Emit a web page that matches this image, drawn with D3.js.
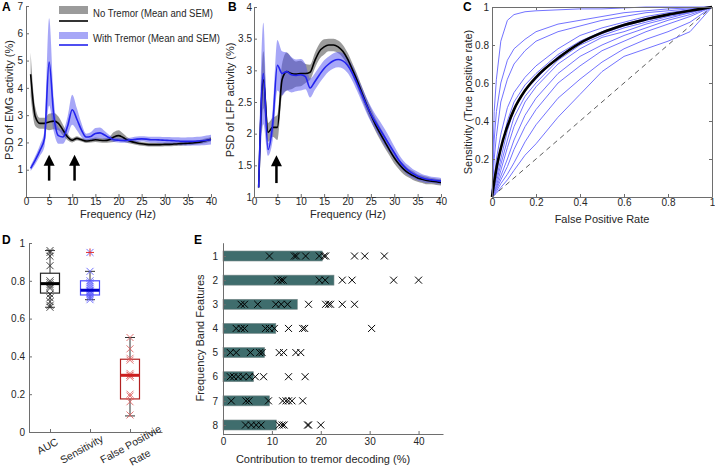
<!DOCTYPE html>
<html>
<head>
<meta charset="utf-8">
<script src="https://cdn.jsdelivr.net/npm/d3@7"></script>
<style>
  body { margin: 0; background: #fff; }
  svg { font-family: "Liberation Sans", Arial, sans-serif; }
  .axis path, .axis line { stroke: #6e6e6e; }
  .axis text { fill: #262626; font-size: 10px; }
</style>
</head>
<body>
<div id="vis-container"></div>
<script>
// ---- Panel A / B : PSD spectra (1..40 Hz) ----
const freqs = d3.range(1, 41);

const emgNoMean = [4.5, 2.95, 2.7, 2.7, 2.75, 2.78, 2.7, 2.45, 2.2, 2.08, 2.15, 2.1, 2.05, 2.07, 2.1, 2.08, 2.07, 2.1, 2.2, 2.25,
  2.18, 2.08, 2.02, 1.98, 1.95, 1.93, 1.92, 1.92, 1.92, 1.93, 1.93, 1.94, 1.95, 1.96, 1.97, 1.98, 2.0, 2.03, 2.07, 2.12];
const emgNoSem = [0.8, 0.35, 0.2, 0.2, 0.3, 0.3, 0.25, 0.2, 0.12, 0.08, 0.08, 0.07, 0.07, 0.07, 0.08, 0.08, 0.08, 0.1, 0.18, 0.2,
  0.15, 0.1, 0.08, 0.07, 0.07, 0.07, 0.07, 0.07, 0.07, 0.07, 0.07, 0.07, 0.07, 0.07, 0.07, 0.07, 0.07, 0.08, 0.08, 0.08];
const emgTrMean = [1.05, 1.35, 1.7, 2.15, 4.95, 3.0, 2.25, 2.2, 2.6, 3.2, 2.85, 2.45, 2.2, 2.22, 2.33, 2.35, 2.27, 2.17, 2.1, 2.08,
  2.07, 2.08, 2.1, 2.12, 2.13, 2.12, 2.1, 2.1, 2.09, 2.08, 2.07, 2.06, 2.05, 2.04, 2.04, 2.04, 2.05, 2.06, 2.08, 2.1];
const emgTrSem = [0.1, 0.15, 0.2, 0.3, 1.6, 0.6, 0.3, 0.25, 0.35, 0.55, 0.4, 0.25, 0.12, 0.15, 0.2, 0.2, 0.15, 0.1, 0.08, 0.08,
  0.08, 0.08, 0.09, 0.1, 0.1, 0.1, 0.11, 0.11, 0.12, 0.12, 0.13, 0.13, 0.14, 0.14, 0.15, 0.15, 0.16, 0.16, 0.17, 0.18];

const lfpNoMean = [1.15, 2.85, 2.02, 2.1, 2.1, 2.85, 2.98, 2.95, 2.94, 2.95, 2.95, 2.97, 3.15, 3.3, 3.37, 3.4, 3.4, 3.37, 3.3, 3.18,
  3.02, 2.85, 2.66, 2.47, 2.3, 2.14, 2.0, 1.87, 1.74, 1.62, 1.52, 1.44, 1.38, 1.34, 1.3, 1.28, 1.26, 1.25, 1.24, 1.23];
const lfpNoSem = [0.05, 0.45, 0.15, 0.15, 0.2, 0.25, 0.3, 0.25, 0.2, 0.2, 0.15, 0.12, 0.12, 0.12, 0.12, 0.1, 0.1, 0.1, 0.1, 0.1,
  0.1, 0.1, 0.1, 0.1, 0.1, 0.1, 0.1, 0.1, 0.09, 0.09, 0.08, 0.08, 0.07, 0.07, 0.06, 0.06, 0.06, 0.05, 0.05, 0.05];
const lfpTrMean = [1.15, 2.95, 1.75, 2.15, 3.08, 2.95, 2.98, 2.93, 2.92, 2.93, 2.9, 2.72, 2.82, 2.93, 3.03, 3.1, 3.15, 3.17, 3.15, 3.08,
  2.96, 2.8, 2.63, 2.46, 2.31, 2.18, 2.06, 1.94, 1.82, 1.7, 1.58, 1.49, 1.42, 1.37, 1.33, 1.3, 1.28, 1.27, 1.26, 1.25];
const lfpTrSem = [0.05, 0.8, 0.1, 0.25, 0.4, 0.35, 0.3, 0.28, 0.25, 0.25, 0.2, 0.15, 0.13, 0.13, 0.13, 0.12, 0.12, 0.12, 0.12, 0.12,
  0.12, 0.12, 0.12, 0.12, 0.12, 0.12, 0.13, 0.13, 0.12, 0.1, 0.09, 0.08, 0.08, 0.07, 0.07, 0.06, 0.06, 0.05, 0.05, 0.05];

const emgArrows = [5, 10.5];
const lfpArrows = [4.8];

// ---- Panel C : ROC curves ----
const rocFpr = [0, 0.01, 0.02, 0.04, 0.07, 0.1, 0.15, 0.2, 0.3, 0.4, 0.5, 0.6, 0.7, 0.8, 0.9, 1];
const rocTpr = [
  [0, 0.45, 0.62, 0.82, 0.93, 0.96, 0.975, 0.98, 0.985, 0.99, 0.99, 0.995, 1, 1, 1, 1],
  [0, 0.3, 0.45, 0.6, 0.72, 0.78, 0.83, 0.87, 0.91, 0.93, 0.95, 0.97, 0.98, 0.99, 0.995, 1],
  [0, 0.2, 0.32, 0.5, 0.62, 0.7, 0.77, 0.82, 0.87, 0.9, 0.93, 0.95, 0.97, 0.98, 0.99, 1],
  [0, 0.1, 0.2, 0.33, 0.47, 0.55, 0.63, 0.69, 0.78, 0.85, 0.89, 0.92, 0.95, 0.97, 0.985, 1],
  [0, 0.06, 0.12, 0.25, 0.4, 0.5, 0.59, 0.65, 0.75, 0.82, 0.87, 0.91, 0.94, 0.96, 0.98, 1],
  [0, 0.05, 0.1, 0.2, 0.35, 0.46, 0.56, 0.62, 0.74, 0.81, 0.86, 0.9, 0.93, 0.955, 0.975, 1],
  [0, 0.04, 0.08, 0.17, 0.3, 0.42, 0.53, 0.6, 0.72, 0.8, 0.85, 0.89, 0.92, 0.95, 0.97, 1],
  [0, 0.03, 0.06, 0.14, 0.26, 0.37, 0.5, 0.58, 0.7, 0.78, 0.84, 0.87, 0.91, 0.94, 0.97, 1],
  [0, 0.02, 0.05, 0.11, 0.2, 0.3, 0.43, 0.52, 0.65, 0.74, 0.8, 0.85, 0.89, 0.93, 0.96, 1],
  [0, 0.02, 0.04, 0.09, 0.16, 0.25, 0.37, 0.46, 0.6, 0.69, 0.77, 0.82, 0.87, 0.91, 0.95, 1],
  [0, 0.01, 0.03, 0.07, 0.12, 0.18, 0.29, 0.38, 0.52, 0.62, 0.71, 0.78, 0.83, 0.87, 0.92, 1],
  [0, 0.01, 0.02, 0.05, 0.09, 0.14, 0.22, 0.28, 0.42, 0.54, 0.66, 0.74, 0.78, 0.82, 0.87, 1]
];
const rocMeanFpr = [0, 0.02, 0.05, 0.1, 0.15, 0.2, 0.3, 0.4, 0.5, 0.6, 0.7, 0.8, 0.9, 1];
const rocMeanTpr = [0, 0.15, 0.3, 0.46, 0.56, 0.63, 0.73, 0.81, 0.865, 0.905, 0.935, 0.96, 0.98, 1];

// ---- Panel D : box plots ----
const boxNames = ["AUC", "Sensitivity", "False Positivie Rate"];
const boxQ1 = [0.735, 0.725, 0.175];
const boxMedian = [0.785, 0.75, 0.30];
const boxQ3 = [0.84, 0.80, 0.385];
const boxLow = [0.66, 0.70, 0.085];
const boxHigh = [0.96, 0.85, 0.50];
const boxOutliers = [[], [0.95], []];
const boxPoints = [
  [0.96, 0.95, 0.93, 0.88, 0.80, 0.79, 0.78, 0.77, 0.76, 0.73, 0.71, 0.69, 0.67, 0.66],
  [0.95, 0.85, 0.80, 0.79, 0.78, 0.77, 0.76, 0.75, 0.745, 0.74, 0.73, 0.72, 0.71, 0.70],
  [0.50, 0.44, 0.39, 0.38, 0.31, 0.30, 0.30, 0.29, 0.20, 0.19, 0.16, 0.09]
];

// ---- Panel E : feature contributions ----
const bandFeatures = [1, 2, 3, 4, 5, 6, 7, 8];
const bandMean = [20.3, 22.7, 15.2, 10.8, 8.5, 6.2, 9.5, 10.9];
const bandSubjects = [
  [9.5, 14.6, 15.0, 16.9, 19.7, 20.7, 21.0, 26.9, 29.0, 33.0],
  [11.2, 11.9, 12.3, 19.7, 20.9, 24.4, 26.4, 34.9, 40.0],
  [3.7, 4.4, 7.1, 10.8, 11.9, 13.2, 17.5, 21.0, 21.6, 22.0, 24.4, 26.9],
  [2.7, 3.7, 4.4, 8.7, 9.5, 10.5, 13.4, 16.3, 16.7, 30.4],
  [1.5, 2.7, 5.6, 7.5, 8.0, 11.5, 12.4, 14.9, 15.9],
  [1.5, 2.2, 3.1, 4.1, 5.4, 6.6, 8.3, 13.4, 16.8],
  [1.7, 4.7, 5.3, 9.3, 12.2, 12.9, 13.4, 14.1, 16.3],
  [4.6, 5.8, 6.8, 7.8, 11.5, 12.1, 12.5, 17.3, 17.5, 20.0]
];

const blueLine = "#2323ee";
const blueFill = "#5050f0";
const grayFill = "#7a7a7a";

function main()
{
    const svg = d3.select("#vis-container")
        .append("svg")
        .attr("width", 715)
        .attr("height", 467);

    // MATLAB-like axis: inward ticks, no outer ticks
    function addAxis(axisFn, scale, transform, ticks, fmt, pad = 2, showLabels = true)
    {
        const axis = axisFn(scale).tickValues(ticks).tickSizeInner(-3).tickSizeOuter(0).tickPadding(pad);
        axis.tickFormat(showLabels ? (fmt || (d => d)) : () => "");
        return svg.append("g")
            .attr("class", "axis")
            .attr("transform", transform)
            .call(axis);
    }

    function panelLetter(letter, x, y)
    {
        svg.append("text").attr("x", x).attr("y", y)
            .style("font-weight", "bold").style("font-size", "12px").text(letter);
    }

    function axisLabel(text, x, y, rotate)
    {
        svg.append("text")
            .attr("transform", `translate(${x},${y})` + (rotate ? " rotate(-90)" : ""))
            .attr("text-anchor", "middle")
            .style("font-size", "11px")
            .style("fill", "#262626")
            .text(text);
    }

    function drawArrow(g, x, yTip, yTail)
    {
        g.append("line").attr("x1", x).attr("x2", x).attr("y1", yTip + 8).attr("y2", yTail)
            .attr("stroke", "#000").attr("stroke-width", 2.5);
        g.append("path")
            .attr("d", `M${x},${yTip} L${x - 5.5},${yTip + 11} L${x + 5.5},${yTip + 11} Z`)
            .attr("fill", "#000");
    }

    function drawSpectrum(xScale, yScale, noMean, noSem, trMean, trSem)
    {
        const g = svg.append("g");
        const area = (m, s) => d3.area()
            .x((_, i) => xScale(freqs[i]))
            .y0((_, i) => yScale(m[i] - s[i]))
            .y1((_, i) => yScale(m[i] + s[i]))
            .curve(d3.curveMonotoneX)(m);
        const line = m => d3.line()
            .x((_, i) => xScale(freqs[i]))
            .y(d => yScale(d))
            .curve(d3.curveMonotoneX)(m);

        g.append("path").attr("d", area(noMean, noSem)).attr("fill", grayFill).attr("opacity", 0.75);
        g.append("path").attr("d", area(trMean, trSem)).attr("fill", blueFill).attr("opacity", 0.5);
        g.append("path").attr("d", line(noMean)).attr("fill", "none").attr("stroke", "#000").attr("stroke-width", 1.6);
        g.append("path").attr("d", line(trMean)).attr("fill", "none").attr("stroke", blueLine).attr("stroke-width", 1.6);
        return g;
    }

    // ---------------- Panel A ----------------
    const xA = d3.scaleLinear().domain([0, 40]).range([26, 211]);
    const yA = d3.scaleLinear().domain([0, 7]).range([197, 6]);
    const gA = drawSpectrum(xA, yA, emgNoMean, emgNoSem, emgTrMean, emgTrSem);
    addAxis(d3.axisBottom, xA, "translate(0,197)", d3.range(0, 41, 5), null, 1);
    addAxis(d3.axisLeft, yA, `translate(${xA(0)},0)`, d3.range(1, 8), null, 3);
    emgArrows.forEach(f => drawArrow(gA, xA(f), yA(1.55), yA(0.6)));
    panelLetter("A", 2, 11);
    axisLabel("PSD of EMG activity (%)", 13, 100, true);
    axisLabel("Frequency (Hz)", 118, 218, false);

    // legend
    const legend = svg.append("g");
    legend.append("rect").attr("x", 59).attr("y", 6).attr("width", 29).attr("height", 8)
        .attr("fill", grayFill).attr("opacity", 0.75);
    legend.append("line").attr("x1", 59).attr("x2", 88).attr("y1", 21).attr("y2", 21)
        .attr("stroke", "#000").attr("stroke-width", 1.6);
    legend.append("rect").attr("x", 59).attr("y", 32).attr("width", 29).attr("height", 7)
        .attr("fill", blueFill).attr("opacity", 0.5);
    legend.append("line").attr("x1", 59).attr("x2", 88).attr("y1", 45).attr("y2", 45)
        .attr("stroke", blueLine).attr("stroke-width", 1.6);
    legend.append("text").attr("x", 93).attr("y", 17).style("font-size", "10px").style("fill", "#262626")
        .attr("textLength", 120).attr("lengthAdjust", "spacingAndGlyphs")
        .text("No Tremor (Mean and SEM)");
    legend.append("text").attr("x", 93).attr("y", 42).style("font-size", "10px").style("fill", "#262626")
        .attr("textLength", 127).attr("lengthAdjust", "spacingAndGlyphs")
        .text("With Tremor (Mean and SEM)");

    // ---------------- Panel B ----------------
    const xB = d3.scaleLinear().domain([0, 40]).range([254, 441]);
    const yB = d3.scaleLinear().domain([1, 4]).range([197, 7]);
    const gB = drawSpectrum(xB, yB, lfpNoMean, lfpNoSem, lfpTrMean, lfpTrSem);
    addAxis(d3.axisBottom, xB, "translate(0,197)", d3.range(0, 41, 5), null, 1);
    addAxis(d3.axisLeft, yB, `translate(${xB(0)},0)`, d3.range(1, 4.01, 0.5), null, 2);
    lfpArrows.forEach(f => drawArrow(gB, xB(f), yB(1.66), yB(1.22)));
    panelLetter("B", 228, 11);
    axisLabel("PSD of LFP activity (%)", 234, 100, true);
    axisLabel("Frequency (Hz)", 348, 218, false);

    // ---------------- Panel C ----------------
    const xC = d3.scaleLinear().domain([0, 1]).range([492, 712]);
    const yC = d3.scaleLinear().domain([0, 1]).range([197, 7]);
    const gC = svg.append("g");
    gC.append("line").attr("x1", xC(0)).attr("y1", yC(0)).attr("x2", xC(1)).attr("y2", yC(1))
        .attr("stroke", "#333").attr("stroke-dasharray", "5,4").attr("stroke-width", 0.8);
    const rocLine = d3.line().x(d => xC(d[0])).y(d => yC(d[1]));
    rocTpr.forEach(tpr => {
        gC.append("path")
            .attr("d", rocLine(rocFpr.map((f, i) => [f, tpr[i]])))
            .attr("fill", "none").attr("stroke", "#7373ff").attr("stroke-width", 1);
    });
    gC.append("path")
        .attr("d", d3.line().x(d => xC(d[0])).y(d => yC(d[1])).curve(d3.curveMonotoneX)(rocMeanFpr.map((f, i) => [f, rocMeanTpr[i]])))
        .attr("fill", "none").attr("stroke", "#000").attr("stroke-width", 2.6);
    addAxis(d3.axisBottom, xC, "translate(0,197)", d3.range(0, 1.01, 0.2), d3.format("~g"), 2);
    addAxis(d3.axisLeft, yC, `translate(${xC(0)},0)`, d3.range(0.2, 1.01, 0.2), d3.format("~g"), 3);
    addAxis(d3.axisTop, xC, `translate(0,${yC(1)})`, d3.range(0, 1.01, 0.2), null, 2, false);
    addAxis(d3.axisRight, yC, `translate(${xC(1)},0)`, d3.range(0.2, 1.01, 0.2), null, 2, false);
    panelLetter("C", 463, 11);
    axisLabel("Sensitivity (True positive rate)", 472, 102, true);
    axisLabel("False Positive Rate", 602, 223, false);

    // ---------------- Panel D ----------------
    const xD = d3.scaleLinear().domain([0.475, 3.8]).range([29, 162]);
    const yD = d3.scaleLinear().domain([0, 1]).range([432, 243]);
    const boxColor = ["#262626", "#4d4dff", "#b22222"];
    const medColor = ["#000000", "#0000c8", "#cc1f1f"];
    const ptColor = ["#262626", "#5a5aff", "#e06060"];
    const boxW = 19;
    const gD = svg.append("g");
    boxNames.forEach((name, i) => {
        const cx = xD(i + 1);
        // whiskers
        gD.append("line").attr("x1", cx).attr("x2", cx).attr("y1", yD(boxHigh[i])).attr("y2", yD(boxQ3[i]))
            .attr("stroke", "#333").attr("stroke-width", 1);
        gD.append("line").attr("x1", cx).attr("x2", cx).attr("y1", yD(boxQ1[i])).attr("y2", yD(boxLow[i]))
            .attr("stroke", "#333").attr("stroke-width", 1);
        [boxHigh[i], boxLow[i]].forEach(v => {
            gD.append("line").attr("x1", cx - 5).attr("x2", cx + 5).attr("y1", yD(v)).attr("y2", yD(v))
                .attr("stroke", "#333").attr("stroke-width", 1);
        });
        // box
        gD.append("rect").attr("x", cx - boxW / 2).attr("width", boxW)
            .attr("y", yD(boxQ3[i])).attr("height", yD(boxQ1[i]) - yD(boxQ3[i]))
            .attr("fill", "none").attr("stroke", boxColor[i]).attr("stroke-width", 1.2);
        // points
        boxPoints[i].forEach(v => {
            const y = yD(v);
            gD.append("path").attr("d", `M${cx - 3.5},${y - 3.5}L${cx + 3.5},${y + 3.5}M${cx - 3.5},${y + 3.5}L${cx + 3.5},${y - 3.5}`)
                .attr("stroke", ptColor[i]).attr("stroke-width", 1).attr("opacity", 0.85);
        });
        // median
        gD.append("line").attr("x1", cx - boxW / 2).attr("x2", cx + boxW / 2)
            .attr("y1", yD(boxMedian[i])).attr("y2", yD(boxMedian[i]))
            .attr("stroke", medColor[i]).attr("stroke-width", 3);
        // outliers
        boxOutliers[i].forEach(v => {
            const y = yD(v);
            gD.append("path").attr("d", `M${cx - 4},${y}L${cx + 4},${y}M${cx},${y - 4}L${cx},${y + 4}`)
                .attr("stroke", "#e03030").attr("stroke-width", 1);
        });
    });
    svg.append("g").attr("class", "axis").attr("transform", "translate(0,432)")
        .call(d3.axisBottom(xD).tickValues([1, 2, 3]).tickSizeInner(-3).tickSizeOuter(0).tickFormat(() => ""));
    addAxis(d3.axisLeft, yD, `translate(${xD.range()[0]},0)`, d3.range(0, 1.01, 0.2), d3.format("~g"), 4);

    // rotated category labels
    const catLab = [
        { lines: ["AUC"], dx: 9, dy: 444 },
        { lines: ["Sensitivity"], dx: 14, dy: 441 },
        { lines: ["False Positivie", "Rate"], dx: 32, dy: 431 }
    ];
    catLab.forEach((c, i) => {
        const t = svg.append("text")
            .attr("transform", `translate(${xD(i + 1) + c.dx},${c.dy}) rotate(-29)`)
            .attr("text-anchor", "end")
            .style("font-size", "10.5px").style("fill", "#262626");
        t.append("tspan").attr("x", 0).attr("y", 0).text(c.lines[0]);
        if (c.lines[1])
        {
            t.append("tspan").attr("x", -32).attr("y", 16).attr("text-anchor", "middle").text(c.lines[1]);
        }
    });
    panelLetter("D", 2, 244);

    // ---------------- Panel E ----------------
    const xE = d3.scaleLinear().domain([0, 45]).range([223, 443]);
    const yE = d3.scaleLinear().domain([1, 8]).range([256, 425]);
    const barH = 10;
    const gE = svg.append("g");
    gE.selectAll("rect")
        .data(bandMean)
        .enter()
        .append("rect")
        .attr("x", xE(0))
        .attr("y", (_, i) => yE(bandFeatures[i]) - barH / 2)
        .attr("width", d => xE(d) - xE(0))
        .attr("height", barH)
        .attr("fill", "#3f6d6d")
        .attr("stroke", "#7a8a8a")
        .attr("stroke-width", 0.6);
    bandSubjects.forEach((vals, i) => {
        const y = yE(bandFeatures[i]);
        vals.forEach(v => {
            const x = xE(v);
            gE.append("path").attr("d", `M${x - 3.5},${y - 3.5}L${x + 3.5},${y + 3.5}M${x - 3.5},${y + 3.5}L${x + 3.5},${y - 3.5}`)
                .attr("stroke", "#000").attr("stroke-width", 1);
        });
    });
    svg.append("g").attr("class", "axis").attr("transform", "translate(0,434)")
        .call(d3.axisBottom(xE).tickValues(d3.range(0, 41, 10)).tickSizeInner(-3).tickSizeOuter(0).tickPadding(4));
    svg.append("g").attr("class", "axis").attr("transform", `translate(${xE(0)},0)`)
        .call(d3.axisLeft(d3.scaleLinear().domain([0.45, 8.4]).range([yE(0.45), yE(8.4)]))
            .tickValues(bandFeatures).tickSizeInner(-3).tickSizeOuter(0).tickPadding(5));
    svg.selectAll(".axis text").style("font-size", "10px");
    panelLetter("E", 194, 244);
    axisLabel("Frequency Band Features", 204, 338, true);
    axisLabel("Contribution to tremor decoding (%)", 323, 463, false);
}

document.addEventListener("DOMContentLoaded", main);
</script>
</body>
</html>
